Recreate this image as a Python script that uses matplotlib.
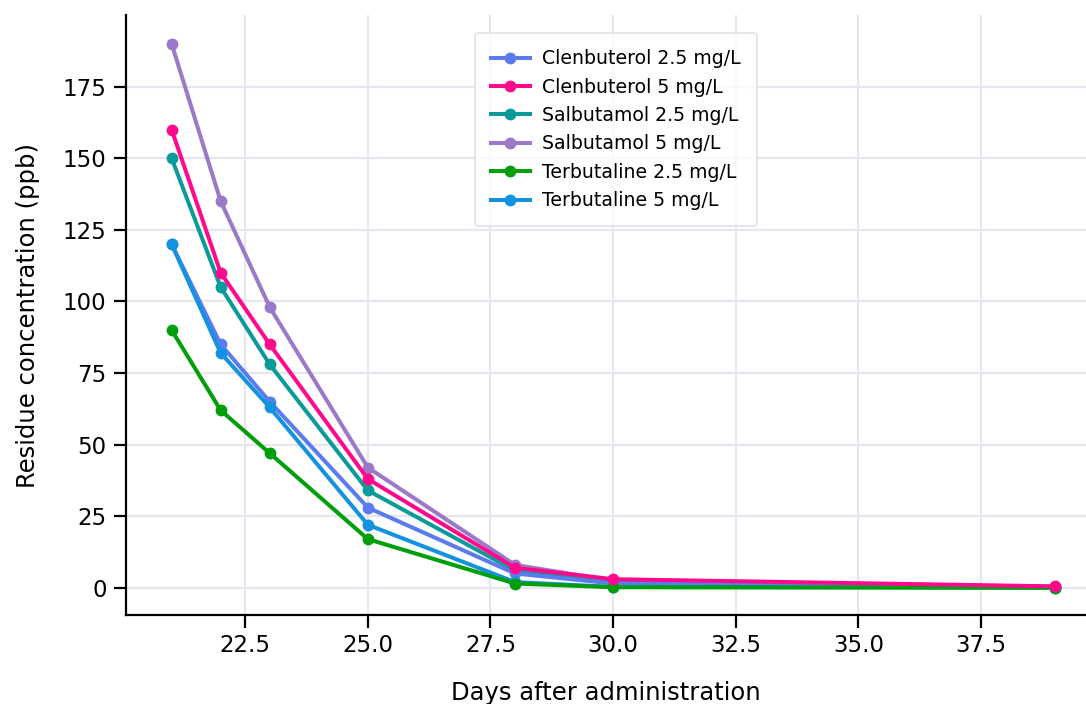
import matplotlib
matplotlib.use("Agg")
import matplotlib.pyplot as plt

days = [21, 22, 23, 25, 28, 30, 39]
clen_25 = [120, 85, 65, 28, 5, 1.5, 0.2]
clen_5 = [160, 110, 85, 38, 7, 3, 0.5]
salb_25 = [150, 105, 78, 34, 6, 2, 0.3]
salb_5 = [190, 135, 98, 42, 8, 2.5, 0.4]
terb_25 = [90, 62, 47, 17, 1.5, 0.2, 0.0]
terb_5 = [120, 82, 63, 22, 2, 0.3, 0.1]

labels = ["Clenbuterol 2.5 mg/L", "Clenbuterol 5 mg/L", "Salbutamol 2.5 mg/L",
          "Salbutamol 5 mg/L", "Terbutaline 2.5 mg/L", "Terbutaline 5 mg/L"]
series = [clen_25, clen_5, salb_25, salb_5, terb_25, terb_5]
colors = ["#5B7BEE", "#FF0A8C", "#0A9A9A", "#9C78C8", "#009E0A", "#1393DF"]
# draw order so pink is on top at the tail
order = [3, 2, 0, 5, 4, 1]

fig = plt.figure(figsize=(10.86, 7.04), dpi=100)
ax = fig.add_axes([0.116, 0.1264, 0.884, 0.8523])

lines = {}
for i in order:
    (ln,) = ax.plot(days, series[i], color=colors[i], lw=2.9, marker="o",
                    markersize=7.5, label=labels[i], zorder=3)
    lines[i] = ln

ax.set_xlim(20.07, 39.64)
ax.set_ylim(-9.5, 200)
ax.set_xticks([22.5, 25.0, 27.5, 30.0, 32.5, 35.0, 37.5])
ax.set_yticks([0, 25, 50, 75, 100, 125, 150, 175])
ax.grid(True, color="#E6E6EE", lw=1.5, zorder=0)
ax.set_axisbelow(True)
for s in ["top", "right"]:
    ax.spines[s].set_visible(False)
for s in ["left", "bottom"]:
    ax.spines[s].set_linewidth(1.6)
ax.tick_params(axis="both", labelsize=16.5, length=9, width=1.6, pad=5)
ax.set_xlabel("Days after administration", fontsize=17.5, labelpad=17)
ax.set_ylabel("Residue concentration (ppb)", fontsize=17.5, labelpad=16)

leg = ax.legend([lines[i] for i in range(6)], labels, fontsize=13.6,
                loc="upper left", bbox_to_anchor=(0.4374, 0.953),
                bbox_transform=fig.transFigure, frameon=True,
                borderaxespad=0.0,
                borderpad=0.85, labelspacing=0.5, handlelength=2.05,
                handletextpad=0.65, fancybox=True)
leg.get_frame().set_edgecolor("#DCDCE2")
leg.get_frame().set_linewidth(1.3)

fig.savefig("out.png", dpi=100)
